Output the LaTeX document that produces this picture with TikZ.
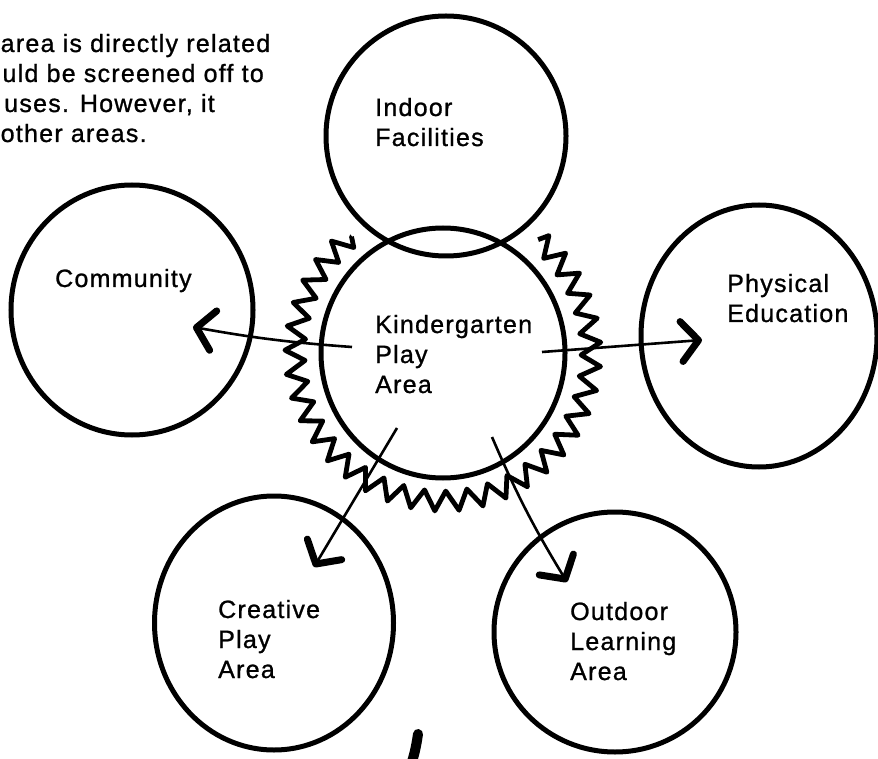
\documentclass[tikz,border=0pt]{standalone}
\usepackage{fontspec}
\setmainfont{Liberation Sans}[LetterSpace=5.0, FakeBold=1.0]
\usetikzlibrary{shapes.geometric,decorations.pathmorphing,arrows.meta}
\begin{document}
\begin{tikzpicture}[x=1pt,y=-1pt,
  area/.style={draw, ellipse, line width=5pt, inner sep=0pt},
  lbl/.style={align=left, anchor=base west, inner sep=0pt, font=\fontsize{25}{30}\selectfont},
  note/.style={inner sep=0pt, font=\fontsize{25}{30}\selectfont},
  link/.style={line width=2.6pt, -{Straight Barb[length=17pt,width=40pt,line width=7pt,round]}},
  screen/.style={line width=4.8pt, line join=round, decorate,
    decoration={zigzag, segment length=22.75pt, amplitude=10pt}}
  ]
\useasboundingbox (0,0) rectangle (878,759);
\clip (0,0) rectangle (878,759);

% areas
\node[area, minimum width=240pt, minimum height=240pt] (I) at (446,136) {};
\node[area, minimum width=244pt, minimum height=250pt] (K) at (443,353) {};
\node[area, minimum width=242pt, minimum height=250pt] (C) at (132,310) {};
\node[area, minimum width=236pt, minimum height=262pt] (P) at (759,336) {};
\node[area, minimum width=239pt, minimum height=254pt] (CP) at (274,623) {};
\node[area, minimum width=242pt, minimum height=240pt] (O) at (615,632) {};

% screening ring
\draw[screen] (K.center) ++(-50:148) arc[start angle=-50, end angle=232, radius=148];

% labels (anchored at the baseline of the last line)
\node[lbl] (tI) at (375,146) {Indoor\\Facilities};
\node[lbl] (tC) at (55,287) {Community};
\node[lbl] (tK) at (375,393) {Kindergarten\\Play\\Area};
\node[lbl] (tP) at (727,322) {Physical\\Education};
\node[lbl] (tCP) at (218,678) {Creative\\Play\\Area};
\node[lbl] (tO) at (570,680) {Outdoor\\Learning\\Area};

% note (cut at left edge in the source)
\node[note, anchor=base west] (n1) at (0.5,52) {area is directly related};
\node[note, anchor=base east] (n2) at (264,82) {uld be screened off to};
\node[note, anchor=base east] (n3) at (215,112) {uses. However, it};
\node[note, anchor=base west] (n4) at (0.5,142) {other areas.};

% connectors
\coordinate (kW) at (352,347); \coordinate (cT) at (193,327);
\coordinate (kE) at (542,352); \coordinate (pT) at (702,340);
\coordinate (kSW) at (397,428); \coordinate (cpT) at (314,567);
\coordinate (kSE) at (492,437); \coordinate (oT) at (567,582);
\draw[link] (kW) to[bend left=3] (cT);
\draw[link] (kE) -- (pT);
\draw[link] (kSW) -- (cpT);
\draw[link] (kSE) to[bend right=4] (oT);

% stray mark
\draw[line width=10pt, line cap=round] (418,734) to[bend left=5] (410,768);
\end{tikzpicture}
\end{document}
